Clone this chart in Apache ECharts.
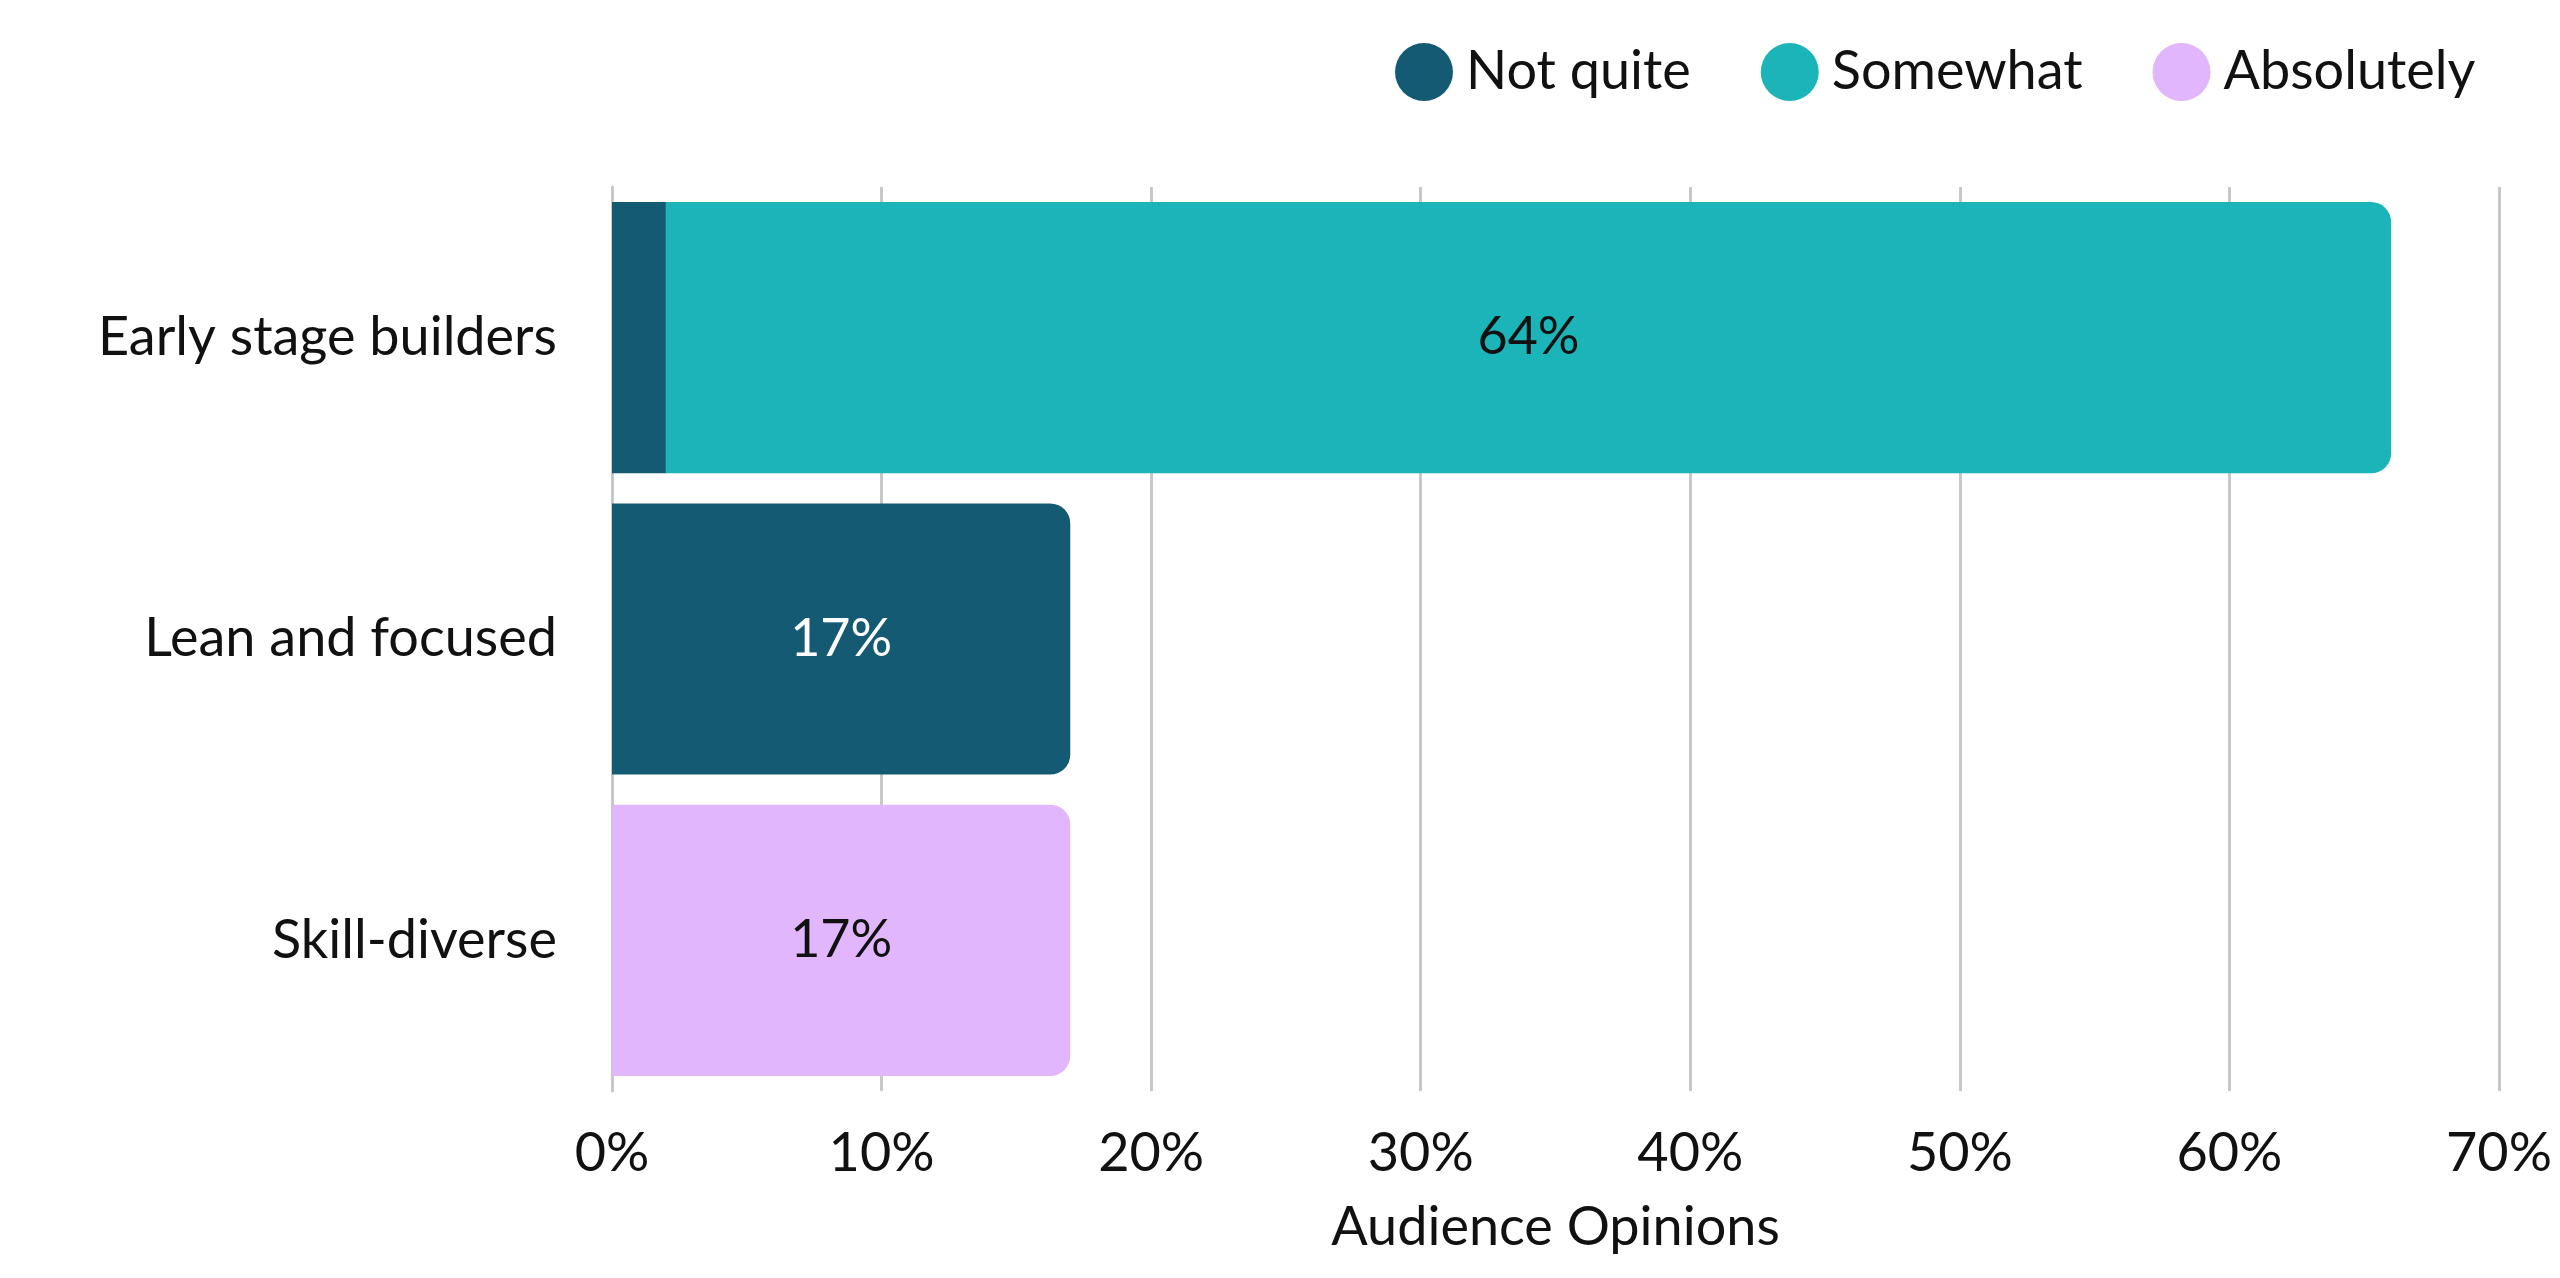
<!DOCTYPE html>
<html>
<head>
<meta charset="utf-8">
<script src="https://cdn.jsdelivr.net/npm/echarts@6/dist/echarts.min.js"></script>
<style>html,body{margin:0;background:#fff}#main{width:2560px;height:1278px}</style>
</head>
<body>
<div id="main"></div>
<script>
const categories = ['Early stage builders', 'Lean and focused', 'Skill-diverse'];
const notQuite = [2, 17, 0];
const somewhat = [64, 0, 0];
const absolutely = [0, 0, 17];
const xTicks = [0, 10, 20, 30, 40, 50, 60, 70];

const chart = echarts.init(document.getElementById('main'));
const font = 'Lato, "Noto Sans", sans-serif';

function label(color, hideBelow) {
  return {
    show: true, position: 'inside', fontSize: 52, fontFamily: font, color: color,
    formatter: p => (p.value > hideBelow ? p.value + '%' : '')
  };
}

chart.setOption({
  textStyle: { fontFamily: font },
  legend: {
    top: 38, left: 'center', left: 1390, itemGap: 70,
    icon: 'circle', itemWidth: 58, itemHeight: 58,
    textStyle: { fontSize: 54, color: '#111', padding: [0, 0, 0, 8] },
    data: ['Not quite', 'Somewhat', 'Absolutely']
  },
  grid: { left: 612, right: 61, top: 187, bottom: 187, containLabel: false },
  xAxis: {
    type: 'value', min: 0, max: 70, interval: 10,
    name: 'Audience Opinions', nameLocation: 'middle', nameGap: 110,
    nameTextStyle: { fontSize: 54, color: '#111' },
    axisLabel: { fontSize: 54, color: '#111', margin: 36, formatter: v => xTicks.includes(v) ? v + '%' : '' },
    splitLine: { lineStyle: { color: '#c8c8c8', width: 3 } },
    axisLine: { show: false }, axisTick: { show: false }
  },
  yAxis: {
    type: 'category', inverse: true, data: categories,
    axisLabel: { fontSize: 54, color: '#111', margin: 55 },
    axisLine: { show: true, lineStyle: { color: '#c8c8c8', width: 3 } },
    axisTick: { show: false }
  },
  series: [
    { name: 'Not quite', type: 'bar', stack: 's', barWidth: '90%', data: notQuite,
      itemStyle: { color: '#155a73', borderRadius: [0, 0, 0, 0] },
      label: label('#fff', 5) },
    { name: 'Somewhat', type: 'bar', stack: 's', data: somewhat,
      itemStyle: { color: '#1bb5b9' }, label: label('#111', 5) },
    { name: 'Absolutely', type: 'bar', stack: 's', data: absolutely,
      itemStyle: { color: '#e1b6fc' }, label: label('#111', 5) }
  ]
});

// round the right end of the outermost segment in each row
const opt = chart.getOption();
opt.series.forEach((s, si) => {
  s.data = s.data.map((v, i) => {
    const later = opt.series.slice(si + 1).some(t => t.data[i] > 0);
    return { value: v, itemStyle: { borderRadius: later ? 0 : [0, 20, 20, 0] } };
  });
});
chart.setOption({ series: opt.series.map(s => ({ data: s.data })) });
</script>
</body>
</html>
